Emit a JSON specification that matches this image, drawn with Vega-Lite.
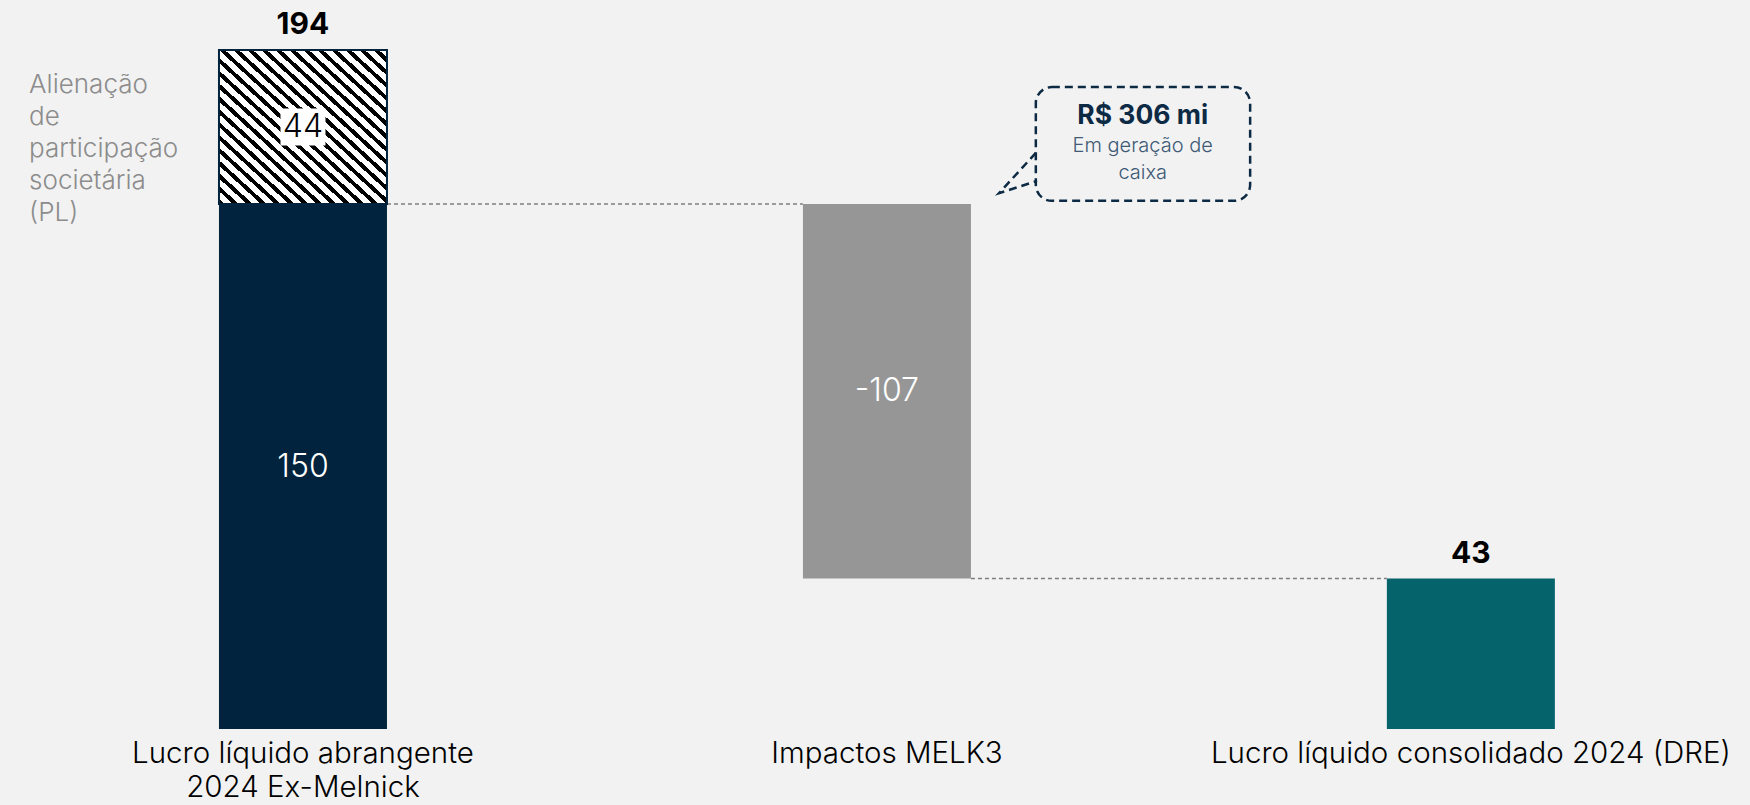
{
  "$schema": "https://vega.github.io/schema/vega-lite/v6.json",
  "width": 1739,
  "height": 729,
  "autosize": {"type": "none"},
  "padding": {"left": 11, "top": 0, "right": 0, "bottom": 76},
  "background": "#F2F2F2",
  "config": {"view": {"stroke": null}, "font": "Inter"},
  "datasets": {
    "bars": [
      {"idx": 0, "part": "base", "start": 0, "end": 150, "label": "150"},
      {"idx": 0, "part": "alienacao", "start": 150, "end": 194, "label": "44"},
      {"idx": 1, "part": "impacto", "start": 150, "end": 43, "label": "-107"},
      {"idx": 2, "part": "total", "start": 0, "end": 43, "label": ""}
    ],
    "totals": [
      {"idx": 0, "value": 194},
      {"idx": 2, "value": 43}
    ],
    "connectors": [
      {"from": 0, "to": 1, "level": 150},
      {"from": 1, "to": 2, "level": 43}
    ],
    "categories": [
      {"idx": 0, "name": "Lucro líquido abrangente\n2024 Ex-Melnick"},
      {"idx": 1, "name": "Impactos MELK3"},
      {"idx": 2, "name": "Lucro líquido consolidado 2024 (DRE)"}
    ],
    "notes": [
      {"x": -0.469, "y": 181.7, "text": "Alienação\nde\nparticipação\nsocietária\n(PL)"}
    ],
    "callout_box": [
      {"x": 1.255, "x2": 1.622, "y": 183.4, "y2": 150.9}
    ],
    "callout_tail": [
      {"o": 1, "x": 1.255, "y": 164.6},
      {"o": 2, "x": 1.192, "y": 153.1},
      {"o": 3, "x": 1.257, "y": 156.6}
    ],
    "callout_text": [
      {"x": 1.438, "y": 175.1, "text": "R$ 306 mi", "role": "head"},
      {"x": 1.438, "y": 166.6, "text": "Em geração de", "role": "sub"},
      {"x": 1.438, "y": 158.9, "text": "caixa", "role": "sub"}
    ]
  },
  "layer": [
    {
      "data": {"name": "connectors"},
      "mark": {"type": "rule", "xOffset": 84, "x2Offset": -84, "strokeDash": [4, 3], "color": "#7F7F7F", "strokeWidth": 1.5},
      "encoding": {
        "x": {"field": "from", "type": "quantitative", "scale": {"domain": [-0.5, 2.478], "nice": false, "zero": false, "padding": 0}, "axis": null},
        "x2": {"field": "to"},
        "y": {"field": "level", "type": "quantitative", "scale": {"domain": [0, 208.29], "nice": false, "padding": 0}, "axis": null}
      }
    },
    {
      "data": {"name": "bars"},
      "transform": [{"filter": "datum.part !== 'alienacao'"}],
      "mark": {"type": "bar", "width": 168},
      "encoding": {
        "x": {"field": "idx", "type": "quantitative", "scale": {"domain": [-0.5, 2.478], "nice": false, "zero": false, "padding": 0},
          "axis": {"title": null, "labels": false, "ticks": false, "grid": false, "domainColor": "#A6A6A6", "domainWidth": 2.5}},
        "y": {"field": "start", "type": "quantitative", "scale": {"domain": [0, 208.29], "nice": false, "padding": 0}, "axis": null},
        "y2": {"field": "end"},
        "color": {"field": "part", "type": "nominal",
          "scale": {"domain": ["base", "impacto", "total"], "range": ["#01233D", "#969696", "#04636B"]}, "legend": null}
      }
    },
    {
      "data": {"name": "bars"},
      "transform": [{"filter": "datum.part === 'alienacao'"}],
      "mark": {
        "type": "bar", "width": 168, "stroke": "#01233D", "strokeWidth": 2,
        "fill": {
          "gradient": "linear", "x1": 0, "y1": 1, "x2": 1, "y2": 0,
          "stops": [
            {"offset": 0, "color": "#000"}, {"offset": 0.0175, "color": "#000"}, {"offset": 0.0175, "color": "#fff"}, {"offset": 0.0417, "color": "#fff"},
            {"offset": 0.0417, "color": "#000"}, {"offset": 0.0592, "color": "#000"}, {"offset": 0.0592, "color": "#fff"}, {"offset": 0.0833, "color": "#fff"},
            {"offset": 0.0833, "color": "#000"}, {"offset": 0.1008, "color": "#000"}, {"offset": 0.1008, "color": "#fff"}, {"offset": 0.125, "color": "#fff"},
            {"offset": 0.125, "color": "#000"}, {"offset": 0.1425, "color": "#000"}, {"offset": 0.1425, "color": "#fff"}, {"offset": 0.1667, "color": "#fff"},
            {"offset": 0.1667, "color": "#000"}, {"offset": 0.1842, "color": "#000"}, {"offset": 0.1842, "color": "#fff"}, {"offset": 0.2083, "color": "#fff"},
            {"offset": 0.2083, "color": "#000"}, {"offset": 0.2258, "color": "#000"}, {"offset": 0.2258, "color": "#fff"}, {"offset": 0.25, "color": "#fff"},
            {"offset": 0.25, "color": "#000"}, {"offset": 0.2675, "color": "#000"}, {"offset": 0.2675, "color": "#fff"}, {"offset": 0.2917, "color": "#fff"},
            {"offset": 0.2917, "color": "#000"}, {"offset": 0.3092, "color": "#000"}, {"offset": 0.3092, "color": "#fff"}, {"offset": 0.3333, "color": "#fff"},
            {"offset": 0.3333, "color": "#000"}, {"offset": 0.3508, "color": "#000"}, {"offset": 0.3508, "color": "#fff"}, {"offset": 0.375, "color": "#fff"},
            {"offset": 0.375, "color": "#000"}, {"offset": 0.3925, "color": "#000"}, {"offset": 0.3925, "color": "#fff"}, {"offset": 0.4167, "color": "#fff"},
            {"offset": 0.4167, "color": "#000"}, {"offset": 0.4342, "color": "#000"}, {"offset": 0.4342, "color": "#fff"}, {"offset": 0.4583, "color": "#fff"},
            {"offset": 0.4583, "color": "#000"}, {"offset": 0.4758, "color": "#000"}, {"offset": 0.4758, "color": "#fff"}, {"offset": 0.5, "color": "#fff"},
            {"offset": 0.5, "color": "#000"}, {"offset": 0.5175, "color": "#000"}, {"offset": 0.5175, "color": "#fff"}, {"offset": 0.5417, "color": "#fff"},
            {"offset": 0.5417, "color": "#000"}, {"offset": 0.5592, "color": "#000"}, {"offset": 0.5592, "color": "#fff"}, {"offset": 0.5833, "color": "#fff"},
            {"offset": 0.5833, "color": "#000"}, {"offset": 0.6008, "color": "#000"}, {"offset": 0.6008, "color": "#fff"}, {"offset": 0.625, "color": "#fff"},
            {"offset": 0.625, "color": "#000"}, {"offset": 0.6425, "color": "#000"}, {"offset": 0.6425, "color": "#fff"}, {"offset": 0.6667, "color": "#fff"},
            {"offset": 0.6667, "color": "#000"}, {"offset": 0.6842, "color": "#000"}, {"offset": 0.6842, "color": "#fff"}, {"offset": 0.7083, "color": "#fff"},
            {"offset": 0.7083, "color": "#000"}, {"offset": 0.7258, "color": "#000"}, {"offset": 0.7258, "color": "#fff"}, {"offset": 0.75, "color": "#fff"},
            {"offset": 0.75, "color": "#000"}, {"offset": 0.7675, "color": "#000"}, {"offset": 0.7675, "color": "#fff"}, {"offset": 0.7917, "color": "#fff"},
            {"offset": 0.7917, "color": "#000"}, {"offset": 0.8092, "color": "#000"}, {"offset": 0.8092, "color": "#fff"}, {"offset": 0.8333, "color": "#fff"},
            {"offset": 0.8333, "color": "#000"}, {"offset": 0.8508, "color": "#000"}, {"offset": 0.8508, "color": "#fff"}, {"offset": 0.875, "color": "#fff"},
            {"offset": 0.875, "color": "#000"}, {"offset": 0.8925, "color": "#000"}, {"offset": 0.8925, "color": "#fff"}, {"offset": 0.9167, "color": "#fff"},
            {"offset": 0.9167, "color": "#000"}, {"offset": 0.9342, "color": "#000"}, {"offset": 0.9342, "color": "#fff"}, {"offset": 0.9583, "color": "#fff"},
            {"offset": 0.9583, "color": "#000"}, {"offset": 0.9758, "color": "#000"}, {"offset": 0.9758, "color": "#fff"}, {"offset": 1, "color": "#fff"}
          ]
        }
      },
      "encoding": {
        "x": {"field": "idx", "type": "quantitative", "scale": {"domain": [-0.5, 2.478], "nice": false, "zero": false, "padding": 0}, "axis": null},
        "y": {"field": "start", "type": "quantitative", "scale": {"domain": [0, 208.29], "nice": false, "padding": 0}, "axis": null},
        "y2": {"field": "end"}
      }
    },
    {
      "data": {"name": "bars"},
      "transform": [
        {"filter": "datum.part === 'alienacao'"},
        {"calculate": "(datum.start + datum.end) / 2", "as": "mid"}
      ],
      "mark": {"type": "point", "shape": "M-1,-0.82H1V0.82H-1Z", "size": 2025, "filled": true, "color": "#FFFFFF", "opacity": 1, "strokeWidth": 0},
      "encoding": {
        "x": {"field": "idx", "type": "quantitative", "scale": {"domain": [-0.5, 2.478], "nice": false, "zero": false, "padding": 0}, "axis": null},
        "y": {"field": "mid", "type": "quantitative", "scale": {"domain": [0, 208.29], "nice": false, "padding": 0}, "axis": null}
      }
    },
    {
      "data": {"name": "bars"},
      "transform": [
        {"calculate": "(datum.start + datum.end) / 2", "as": "mid"}
      ],
      "mark": {"type": "text", "fontSize": 32, "fontWeight": 300, "baseline": "middle", "align": "center"},
      "encoding": {
        "x": {"field": "idx", "type": "quantitative", "scale": {"domain": [-0.5, 2.478], "nice": false, "zero": false, "padding": 0}, "axis": null},
        "y": {"field": "mid", "type": "quantitative", "scale": {"domain": [0, 208.29], "nice": false, "padding": 0}, "axis": null},
        "text": {"field": "label", "type": "nominal"},
        "color": {"condition": {"test": "datum.part === 'alienacao'", "value": "#000000"}, "value": "#FFFFFF"}
      }
    },
    {
      "data": {"name": "totals"},
      "mark": {"type": "text", "fontSize": 30, "fontWeight": "bold", "baseline": "middle", "align": "center", "dy": -25, "color": "#000000"},
      "encoding": {
        "x": {"field": "idx", "type": "quantitative", "scale": {"domain": [-0.5, 2.478], "nice": false, "zero": false, "padding": 0}, "axis": null},
        "y": {"field": "value", "type": "quantitative", "scale": {"domain": [0, 208.29], "nice": false, "padding": 0}, "axis": null},
        "text": {"field": "value", "type": "quantitative"}
      }
    },
    {
      "data": {"name": "categories"},
      "mark": {"type": "text", "fontSize": 29.5, "fontWeight": 300, "baseline": "alphabetic", "align": "center", "dy": 34, "lineBreak": "\n", "lineHeight": 34, "color": "#000000"},
      "encoding": {
        "x": {"field": "idx", "type": "quantitative", "scale": {"domain": [-0.5, 2.478], "nice": false, "zero": false, "padding": 0}, "axis": null},
        "y": {"datum": 0, "type": "quantitative", "scale": {"domain": [0, 208.29], "nice": false, "padding": 0}, "axis": null},
        "text": {"field": "name", "type": "nominal"}
      }
    },
    {
      "data": {"name": "notes"},
      "mark": {"type": "text", "fontSize": 26, "fontWeight": 300, "baseline": "alphabetic", "align": "left", "lineBreak": "\n", "lineHeight": 32, "color": "#8C8C8C"},
      "encoding": {
        "x": {"field": "x", "type": "quantitative", "scale": {"domain": [-0.5, 2.478], "nice": false, "zero": false, "padding": 0}, "axis": null},
        "y": {"field": "y", "type": "quantitative", "scale": {"domain": [0, 208.29], "nice": false, "padding": 0}, "axis": null},
        "text": {"field": "text", "type": "nominal"}
      }
    },
    {
      "data": {"name": "callout_box"},
      "mark": {"type": "rect", "fill": "#F2F2F2", "stroke": "#0D2A45", "strokeWidth": 2.5, "strokeDash": [8, 5], "cornerRadius": 16},
      "encoding": {
        "x": {"field": "x", "type": "quantitative", "scale": {"domain": [-0.5, 2.478], "nice": false, "zero": false, "padding": 0}, "axis": null},
        "x2": {"field": "x2"},
        "y": {"field": "y", "type": "quantitative", "scale": {"domain": [0, 208.29], "nice": false, "padding": 0}, "axis": null},
        "y2": {"field": "y2"}
      }
    },
    {
      "mark": {"type": "rule", "color": "#F2F2F2", "strokeWidth": 6},
      "encoding": {
        "x": {"datum": 1.255, "type": "quantitative", "scale": {"domain": [-0.5, 2.478], "nice": false, "zero": false, "padding": 0}, "axis": null},
        "y": {"datum": 163.7, "type": "quantitative", "scale": {"domain": [0, 208.29], "nice": false, "padding": 0}, "axis": null},
        "y2": {"datum": 157.1}
      }
    },
    {
      "data": {"name": "callout_tail"},
      "mark": {"type": "line", "stroke": "#0D2A45", "strokeWidth": 2.5, "strokeDash": [8, 5]},
      "encoding": {
        "x": {"field": "x", "type": "quantitative", "scale": {"domain": [-0.5, 2.478], "nice": false, "zero": false, "padding": 0}, "axis": null},
        "y": {"field": "y", "type": "quantitative", "scale": {"domain": [0, 208.29], "nice": false, "padding": 0}, "axis": null},
        "order": {"field": "o", "type": "quantitative"}
      }
    },
    {
      "data": {"name": "callout_text"},
      "transform": [{"filter": "datum.role === 'head'"}],
      "mark": {"type": "text", "fontSize": 26.5, "fontWeight": "bold", "baseline": "middle", "align": "center", "color": "#0D2A45"},
      "encoding": {
        "x": {"field": "x", "type": "quantitative", "scale": {"domain": [-0.5, 2.478], "nice": false, "zero": false, "padding": 0}, "axis": null},
        "y": {"field": "y", "type": "quantitative", "scale": {"domain": [0, 208.29], "nice": false, "padding": 0}, "axis": null},
        "text": {"field": "text", "type": "nominal"}
      }
    },
    {
      "data": {"name": "callout_text"},
      "transform": [{"filter": "datum.role === 'sub'"}],
      "mark": {"type": "text", "fontSize": 20, "fontWeight": 300, "baseline": "middle", "align": "center", "color": "#3E5A76"},
      "encoding": {
        "x": {"field": "x", "type": "quantitative", "scale": {"domain": [-0.5, 2.478], "nice": false, "zero": false, "padding": 0}, "axis": null},
        "y": {"field": "y", "type": "quantitative", "scale": {"domain": [0, 208.29], "nice": false, "padding": 0}, "axis": null},
        "text": {"field": "text", "type": "nominal"}
      }
    }
  ]
}
